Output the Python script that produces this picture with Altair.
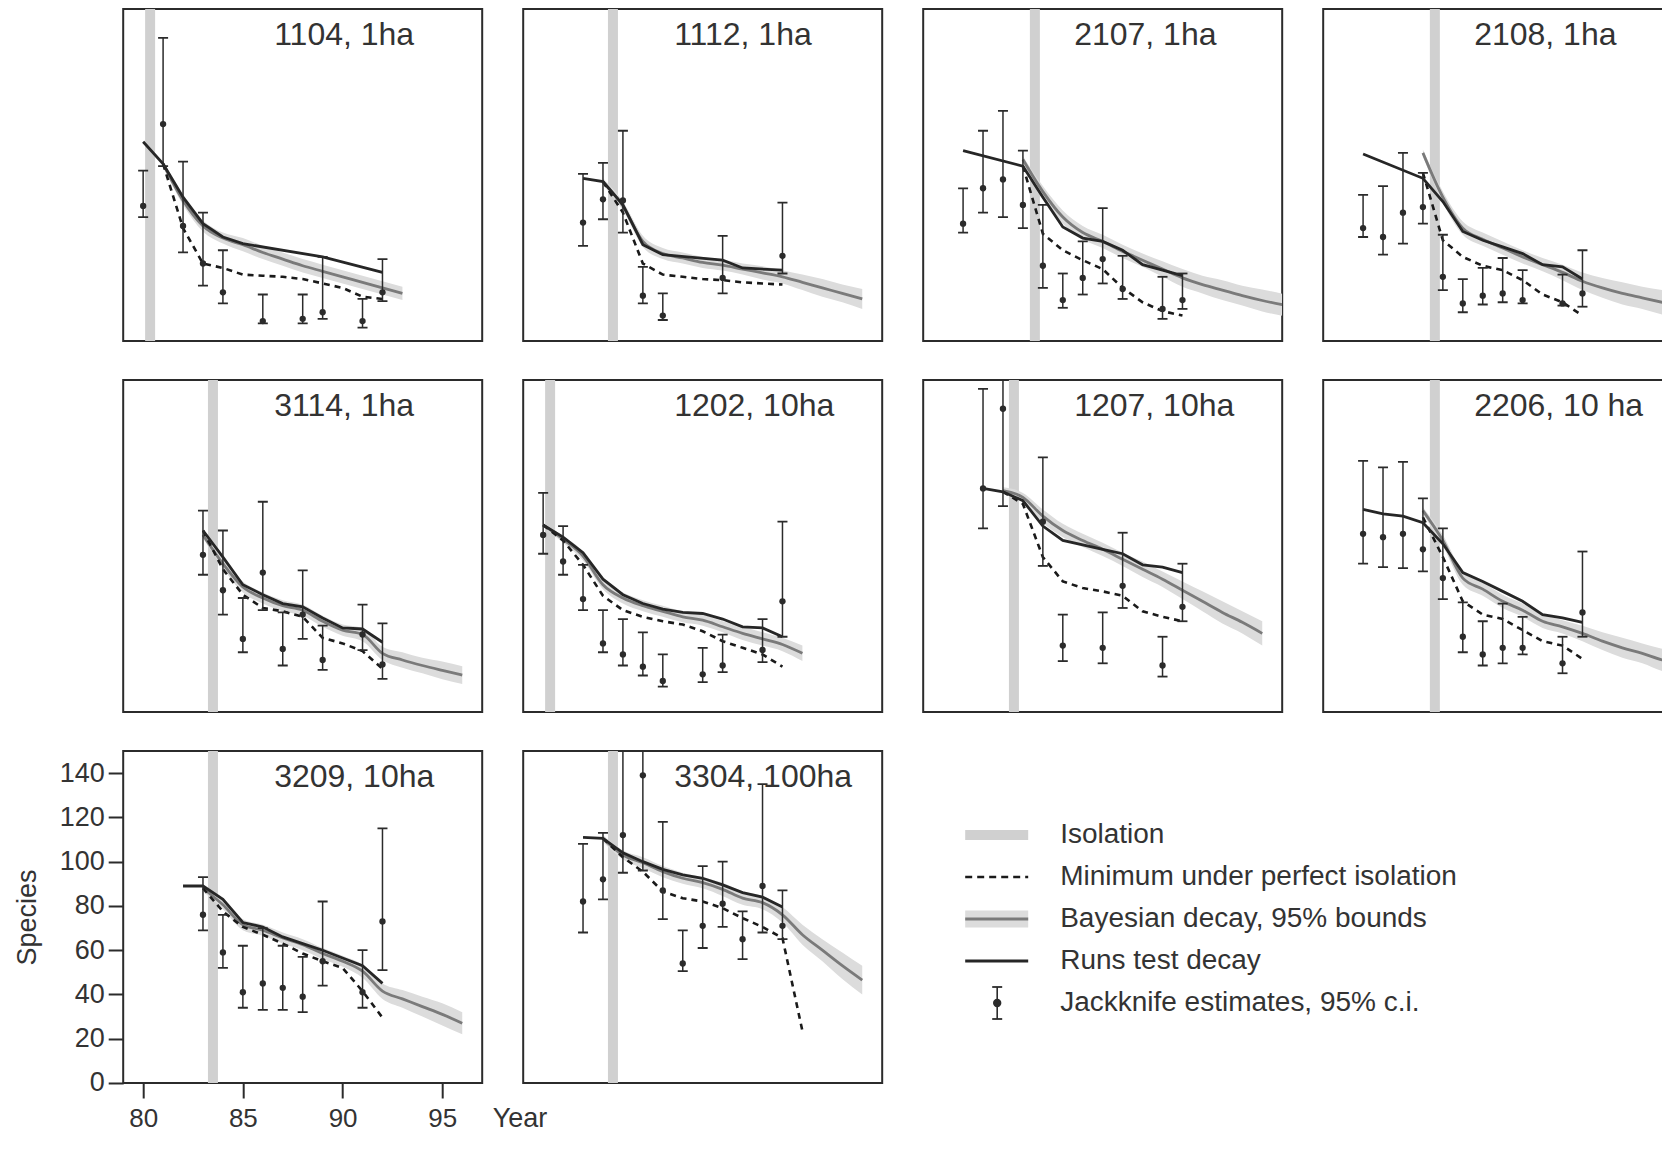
import altair as alt
import pandas as pd

FONT = "Liberation Sans"
INK = "#2b2b2b"
W, H = 359, 332
X_DOMAIN = [79, 97]
Y_DOMAIN = [0, 150]
X_TICKS = [80, 85, 90, 95]
Y_TICKS = [0, 20, 40, 60, 80, 100, 120, 140]

panel_labels = ["1104, 1ha", "1112, 1ha", "2107, 1ha", "2108, 1ha", "3114, 1ha",
                "1202, 10ha", "1207, 10ha", "2206, 10 ha", "3209, 10ha", "3304, 100ha"]
isolation_year = [80.35, 83.5, 84.6, 84.6, 83.5, 80.35, 83.55, 84.6, 83.5, 83.5]

# Jackknife estimates with 95% c.i.
jk_year = [
    [80, 81, 82, 83, 84, 86, 88, 89, 91, 92],
    [82, 83, 84, 85, 86, 89, 92],
    [81, 82, 83, 84, 85, 86, 87, 88, 89, 91, 92],
    [81, 82, 83, 84, 85, 86, 87, 88, 89, 91, 92],
    [83, 84, 85, 86, 87, 88, 89, 91, 92],
    [80, 81, 82, 83, 84, 85, 86, 88, 89, 91, 92],
    [82, 83, 85, 86, 88, 89, 91, 92],
    [81, 82, 83, 84, 85, 86, 87, 88, 89, 91, 92],
    [83, 84, 85, 86, 87, 88, 89, 91, 92],
    [82, 83, 84, 85, 86, 87, 88, 89, 90, 91, 92],
]
jk_est = [
    [61, 98, 52, 35, 22, 9, 10, 13, 9, 22],
    [53.5, 64, 63.5, 20.5, 11.5, 28.5, 38.5],
    [53, 69, 73, 61.5, 34, 18.5, 28.5, 37, 23.5, 14.5, 18.5],
    [51, 47, 58, 60.5, 29, 17, 20.5, 21.5, 18.5, 17, 21.5],
    [71, 55, 33, 63, 28.5, 44, 23.5, 35, 21.5],
    [80, 68, 51, 31, 26, 20.5, 14, 17, 21, 28, 50],
    [101, 137, 86, 30, 29, 57, 21, 47.5],
    [80.5, 79, 80.5, 73.5, 60.5, 34, 26, 29, 29, 22, 45],
    [76, 59, 41, 45, 43, 39, 55, 41, 73],
    [82, 92, 112, 139, 87, 54, 71, 81, 65, 89, 71],
]
jk_lo = [
    [56, 79, 40, 25, 17, 8, 8, 10, 6, 18],
    [43, 55, 49, 17, 9.5, 21.5, 30.5],
    [49, 58, 56, 51, 24, 15, 21, 26, 19, 10, 14.5],
    [47, 39, 44, 53, 23, 13, 16.5, 17.5, 17, 16, 15.5],
    [62, 44, 27, 46, 21, 33, 19, 28, 15],
    [71.5, 62, 46, 27, 21, 16.5, 11.5, 13.5, 18, 22.5, 34],
    [83, 93, 66, 23, 22, 47, 16, 41],
    [67, 65.5, 65, 63.5, 51, 27, 21, 22, 26, 17.5, 34],
    [69, 52, 34, 33, 33, 32, 44, 34, 51],
    [68, 83, 95, 96, 74, 50.5, 61, 70.5, 56, 68, 65],
]
jk_hi = [
    [77, 137, 81, 58, 41, 21, 21, 38, 19, 37],
    [75.5, 80.5, 95, 33.5, 21.5, 47.5, 62.5],
    [69, 95, 104, 86, 61.5, 30.5, 45, 60, 38.5, 29, 30.5],
    [66, 70, 85, 76, 48, 28, 33, 37.5, 32, 30, 41],
    [91, 82, 51.5, 95, 45, 64, 39, 48.5, 40],
    [99, 84, 66.5, 46, 42, 36, 26, 29, 35, 42, 86],
    [146, 160, 115, 44, 45, 81, 34, 67],
    [113.5, 110.5, 113, 96.5, 83, 49.5, 41, 49, 43, 34, 72.5],
    [93, 76, 62, 70, 62, 57, 82, 60, 115],
    [108, 113, 160, 160, 118, 69, 98, 100, 77.5, 135, 87],
]

# Runs test decay
runs_year = [
    [80, 81, 82, 83, 84, 85, 89, 92],
    [82, 83, 84, 85, 86, 89, 90, 92],
    [81, 84, 85, 86, 87, 88, 89, 90, 91, 92],
    [81, 84, 85, 86, 87, 88, 89, 90, 91, 92],
    [83, 84, 85, 86, 87, 88, 89, 90, 91, 92],
    [80, 81, 82, 83, 84, 85, 86, 87, 88, 89, 90, 91, 92],
    [82, 83, 84, 85, 86, 87, 88, 89, 90, 91, 92],
    [81, 82, 83, 84, 85, 86, 87, 88, 89, 90, 91, 92],
    [82, 83, 84, 85, 86, 87, 88, 89, 90, 91, 92],
    [82, 83, 84, 85, 86, 87, 88, 89, 90, 91, 92],
]
runs_val = [
    [90, 80, 65, 53, 47, 44, 38, 31],
    [73.5, 72, 61.5, 43.5, 39, 36.5, 33, 32],
    [86, 79, 65, 51.5, 46.5, 45, 41, 34.5, 32, 29.5],
    [84.5, 73.5, 63, 49.5, 45.5, 42.5, 39.5, 34.5, 33.5, 28],
    [82, 70, 57.5, 53, 49, 47.5, 42.5, 38, 37.5, 31.5],
    [84.5, 79, 72, 60, 53, 49, 46.5, 45, 44.5, 42, 38.5, 38, 34],
    [101, 99.5, 95.5, 84, 77.5, 75.5, 73.5, 71.5, 66.5, 65.5, 63],
    [91.5, 89.5, 88.5, 85.5, 76, 63, 59, 54.5, 50, 44, 42.5, 40.5],
    [89, 89, 83, 72.5, 70.5, 66, 63, 60, 56.5, 53, 45],
    [111, 110.5, 104, 100, 96.5, 94, 92.5, 89.5, 86, 84, 79.5],
]

# Bayesian decay with 95% bounds
bayes_year = [
    [81, 82, 83, 84, 85, 86, 87, 88, 89, 90, 91, 92, 93],
    [83, 84, 85, 86, 87, 88, 89, 90, 91, 92, 93, 94, 95, 96],
    [84, 85, 86, 87, 88, 89, 90, 91, 92, 93, 94, 95, 96, 97],
    [84, 85, 86, 87, 88, 89, 90, 91, 92, 93, 94, 95, 96, 97],
    [83, 84, 85, 86, 87, 88, 89, 90, 91, 92, 93, 94, 95, 96],
    [80, 81, 82, 83, 84, 85, 86, 87, 88, 89, 90, 91, 92, 93],
    [83, 84, 85, 86, 87, 88, 89, 90, 91, 92, 93, 94, 95, 96],
    [84, 85, 86, 87, 88, 89, 90, 91, 92, 93, 94, 95, 96, 97],
    [83, 84, 85, 86, 87, 88, 89, 90, 91, 92, 93, 94, 95, 96],
    [83, 84, 85, 86, 87, 88, 89, 90, 91, 92, 93, 94, 95, 96],
]
bayes_val = [
    [80, 63.5, 52, 46.5, 43.5, 40, 37, 34, 31.5, 29, 26.5, 24, 21.5],
    [72, 61, 45, 39.5, 37.5, 35.5, 34.3, 32.5, 30.8, 29, 26.5, 24, 21.5, 19],
    [82, 67.5, 56, 49, 45, 40.5, 36.5, 32.5, 28.5, 25.5, 23, 20.5, 18.3, 16.4],
    [85, 65, 51, 46, 42, 38, 34.5, 31, 27, 24, 21.5, 19.5, 17.5, 15.5],
    [80, 67, 56.5, 51.5, 48, 46, 41, 37, 35, 26.5, 23.5, 21, 18.8, 16.7],
    [84.5, 78, 70.5, 57.5, 51.5, 48, 45.5, 43, 41.5, 38.5, 35.5, 33, 30.5, 26.5],
    [100, 97, 88.5, 82, 77.5, 73.5, 69, 64.5, 60, 55, 50, 45, 40.5, 35.5],
    [91, 77.5, 60.5, 55.5, 50, 46, 41, 38.5, 35.5, 32, 29, 26.5, 23.5, 21.5],
    [88, 80.5, 71.5, 69, 65.5, 62.5, 58.5, 55, 50.5, 41.5, 38, 34.5, 31, 27],
    [110.5, 103, 99.5, 95.5, 92.5, 90.5, 87.5, 83.5, 81.5, 76, 67, 60, 53, 46.5],
]
bayes_lo = [
    [78.5, 61.5, 49.5, 44, 40.5, 37, 34, 31, 28.5, 26, 23.5, 21, 18.5],
    [70.5, 59, 42.5, 37, 35, 33, 31.8, 30, 27.8, 26, 23, 20, 17.5, 14.5],
    [80.5, 65, 53, 46, 42, 37.5, 33.5, 29, 24.5, 21.5, 18.5, 16, 13.3, 11.4],
    [83.5, 62.5, 48, 43, 39, 35, 31.5, 27.5, 23, 19.5, 16.5, 14.5, 12, 10],
    [78.5, 65, 54, 49, 45.5, 43.5, 38.5, 34.5, 32, 23.5, 20, 17.5, 14.8, 12.7],
    [83.5, 76.5, 68.5, 55.5, 49, 45.5, 43, 40.5, 39, 36, 32.5, 30, 27.5, 23],
    [98.5, 95, 85.5, 79, 74.5, 70.5, 66, 61, 56.5, 51, 45.5, 40, 35.5, 30],
    [89.5, 75, 57.5, 52.5, 47, 43, 38, 35.5, 32, 28, 24.5, 22, 18.5, 16.5],
    [86.5, 78.5, 69, 66.5, 63, 60, 56, 52.5, 47.5, 38, 34, 30, 26, 22],
    [109, 101, 97, 93, 90, 88, 84.5, 80.5, 78.5, 72.5, 62.5, 55, 47, 40],
]
bayes_hi = [
    [81.5, 65.5, 54.5, 49, 46.5, 43, 40, 37, 34.5, 32, 29.5, 27, 24.5],
    [73.5, 63, 47.5, 42, 40, 38, 36.8, 35, 33.8, 32, 30, 28, 25.5, 23.5],
    [83.5, 70, 59, 52, 48, 43.5, 39.5, 36, 32.5, 29.5, 27.5, 25, 23.3, 21.4],
    [86.5, 67.5, 54, 49, 45, 41, 37.5, 34.5, 31, 28.5, 26.5, 24.5, 23, 21],
    [81.5, 69, 59, 54, 50.5, 48.5, 43.5, 39.5, 38, 29.5, 27, 24.5, 22.8, 20.7],
    [85.5, 79.5, 72.5, 59.5, 54, 50.5, 48, 45.5, 44, 41, 38.5, 36, 33.5, 30],
    [101.5, 99, 91.5, 85, 80.5, 76.5, 72, 68, 63.5, 59, 54.5, 50, 45.5, 41],
    [92.5, 80, 63.5, 58.5, 53, 49, 44, 41.5, 39, 36, 33.5, 31, 28.5, 26.5],
    [89.5, 82.5, 74, 71.5, 68, 65, 61, 57.5, 53.5, 45, 42, 39, 36, 32],
    [112, 105, 102, 98, 95, 93, 90.5, 86.5, 84.5, 79.5, 71.5, 65, 59, 53],
]

# Minimum under perfect isolation
min_year = [
    [81, 82, 83, 84, 85, 86, 87, 88, 89, 90, 91, 92],
    [83, 84, 85, 86, 87, 88, 89, 90, 91, 92],
    [84, 85, 86, 87, 88, 89, 90, 91, 92],
    [84, 85, 86, 87, 88, 89, 90, 91, 92],
    [83, 84, 85, 86, 87, 88, 89, 90, 91, 92],
    [80, 81, 82, 83, 84, 85, 86, 87, 88, 89, 90, 91, 92],
    [83, 84, 85, 86, 87, 88, 89, 90, 91, 92],
    [84, 85, 86, 87, 88, 89, 90, 91, 92],
    [83, 84, 85, 86, 87, 88, 89, 90, 91, 92],
    [83, 84, 85, 86, 87, 88, 89, 90, 91, 92, 93],
]
min_val = [
    [80, 51, 35, 33, 30, 29.5, 29, 28, 26, 24, 20, 19],
    [72, 58, 35, 30, 29, 28, 27.5, 26.5, 26, 25.5],
    [79, 48.5, 41, 36.5, 32.5, 24, 17.5, 13.5, 11.5],
    [76, 45.5, 38, 34, 32, 27.5, 21, 17.5, 11.5],
    [82, 64.5, 53, 47, 45.5, 43, 33.5, 31, 27.5, 19.5],
    [84.5, 77.5, 66.5, 52.5, 46, 43, 41, 39.5, 36.5, 32, 29, 26, 20.5],
    [99.5, 94, 70, 59, 56, 54.5, 52.5, 45.5, 43, 41],
    [88, 70, 50, 44, 42, 37, 32, 30, 24],
    [88, 77.5, 70.5, 67, 63, 58.5, 55, 52, 41.5, 29.5],
    [110.5, 102, 95.5, 86.5, 83.5, 82, 79, 74.5, 70.5, 65.5, 23.5],
]

legend_labels = ["Isolation", "Minimum under perfect isolation", "Bayesian decay, 95% bounds",
                 "Runs test decay", "Jackknife estimates, 95% c.i."]


def make_panel(i, axes):
    xs = alt.Scale(domain=X_DOMAIN, nice=False, zero=False)
    ys = alt.Scale(domain=Y_DOMAIN, nice=False, zero=False)
    if axes:
        xax = alt.Axis(values=X_TICKS, title="Year", tickSize=15, labelPadding=8,
                       labelFontSize=26, titleFontSize=27, titleFontWeight="normal",
                       titleX=W + 10, titleY=44, titleAlign="left", titleBaseline="alphabetic",
                       titleAngle=0)
        yax = alt.Axis(values=Y_TICKS, title="Species", tickSize=15, labelPadding=4, titlePadding=18,
                       labelFontSize=27, titleFontSize=27, titleFontWeight="normal")
    else:
        xax = None
        yax = None

    def X(f):
        return alt.X(f, type="quantitative", scale=xs, axis=xax)

    def Y(f):
        return alt.Y(f, type="quantitative", scale=ys, axis=yax)

    iso_df = pd.DataFrame({"year": [isolation_year[i]]})
    jk_df = pd.DataFrame({"year": jk_year[i], "est": jk_est[i], "lo": jk_lo[i], "hi": jk_hi[i]})
    runs_df = pd.DataFrame({"year": runs_year[i], "val": runs_val[i]})
    bayes_df = pd.DataFrame({"year": bayes_year[i], "val": bayes_val[i],
                             "lo": bayes_lo[i], "hi": bayes_hi[i]})
    min_df = pd.DataFrame({"year": min_year[i], "val": min_val[i]})
    lab_df = pd.DataFrame({"label": [panel_labels[i]]})

    iso = alt.Chart(iso_df).mark_rect(color="#d0d0d0", xOffset=-5, x2Offset=5, clip=True).encode(
        x=X("year"), x2="year", y=alt.value(0), y2=alt.value(H))
    band = alt.Chart(bayes_df).mark_area(color="#dcdcdc", interpolate="monotone", clip=True).encode(
        x=X("year"), y=Y("lo"), y2="hi")
    bline = alt.Chart(bayes_df).mark_line(color="#7a7a7a", strokeWidth=2.8, interpolate="monotone",
                                          clip=True).encode(x=X("year"), y=Y("val"))
    mline = alt.Chart(min_df).mark_line(color="#1a1a1a", strokeWidth=2.6, strokeDash=[6, 5],
                                        clip=True).encode(x=X("year"), y=Y("val"))
    rline = alt.Chart(runs_df).mark_line(color="#262626", strokeWidth=2.8, clip=True).encode(
        x=X("year"), y=Y("val"))
    bar = alt.Chart(jk_df).mark_rule(color=INK, strokeWidth=1.5, clip=True).encode(
        x=X("year"), y=Y("lo"), y2="hi")
    cap_hi = alt.Chart(jk_df).mark_rule(color=INK, strokeWidth=1.8, xOffset=-5, x2Offset=5,
                                        clip=True).encode(x=X("year"), x2="year", y=Y("hi"))
    cap_lo = alt.Chart(jk_df).mark_rule(color=INK, strokeWidth=1.8, xOffset=-5, x2Offset=5,
                                        clip=True).encode(x=X("year"), x2="year", y=Y("lo"))
    pts = alt.Chart(jk_df).mark_circle(color=INK, size=40, opacity=1, clip=True).encode(
        x=X("year"), y=Y("est"))
    label = alt.Chart(lab_df).mark_text(align="left", baseline="alphabetic", fontSize=32, font=FONT,
                                        color="#333333").encode(
        x=alt.value(151), y=alt.value(36), text="label:N")
    return alt.layer(iso, band, bline, mline, rline, bar, cap_hi, cap_lo, pts, label).properties(
        width=W, height=H)


def make_legend():
    df = pd.DataFrame({"row": list(range(len(legend_labels))), "label": legend_labels})
    ysc = alt.Scale(domain=[0, 4], range=[84, 252])

    def Y():
        return alt.Y("row:Q", scale=ysc, axis=None)

    base = alt.Chart(df)
    txt = base.mark_text(align="left", baseline="middle", fontSize=28, font=FONT, color="#333333").encode(
        x=alt.value(137), y=Y(), text="label:N")
    x1, x2 = alt.value(42), alt.value(105)
    iso = base.transform_filter(alt.datum.row == 0).mark_rule(color="#d0d0d0", strokeWidth=10).encode(
        x=x1, x2=x2, y=Y())
    dash = base.transform_filter(alt.datum.row == 1).mark_rule(color="#1a1a1a", strokeWidth=2.6,
                                                               strokeDash=[7, 5]).encode(x=x1, x2=x2, y=Y())
    bband = base.transform_filter(alt.datum.row == 2).mark_rule(color="#dcdcdc", strokeWidth=17).encode(
        x=x1, x2=x2, y=Y())
    bline = base.transform_filter(alt.datum.row == 2).mark_rule(color="#7a7a7a", strokeWidth=3).encode(
        x=x1, x2=x2, y=Y())
    runs = base.transform_filter(alt.datum.row == 3).mark_rule(color="#262626", strokeWidth=3).encode(
        x=x1, x2=x2, y=Y())
    jk = base.transform_filter(alt.datum.row == 4)
    jbar = jk.mark_rule(color=INK, strokeWidth=1.6, yOffset=-16, y2Offset=16).encode(
        x=alt.value(74), y=Y(), y2="row:Q")
    jcap1 = jk.mark_rule(color=INK, strokeWidth=1.8, yOffset=-16).encode(
        x=alt.value(69), x2=alt.value(79), y=Y())
    jcap2 = jk.mark_rule(color=INK, strokeWidth=1.8, yOffset=16).encode(
        x=alt.value(69), x2=alt.value(79), y=Y())
    jpt = jk.mark_circle(color=INK, size=70, opacity=1).encode(x=alt.value(74), y=Y())
    return alt.layer(iso, dash, bband, bline, runs, jbar, jcap1, jcap2, jpt, txt).properties(
        width=W, height=H, view=alt.ViewBackground(stroke="transparent", strokeWidth=0))


cells = [make_panel(i, axes=(i == 8)) for i in range(len(panel_labels))]
cells.append(make_legend())

chart = alt.concat(*cells, columns=4, spacing={"row": 39, "column": 41}, bounds="flush").properties(
    padding={"left": 3.2, "top": 0, "right": -21, "bottom": 2}
).configure_view(
    stroke=INK, strokeWidth=2
).configure_axis(
    labelFont=FONT, titleFont=FONT, labelColor="#333333", titleColor="#333333",
    tickColor=INK, tickWidth=2, grid=False, domain=False
)

chart.save("out.html", embed_options={"renderer": "svg", "actions": False})
